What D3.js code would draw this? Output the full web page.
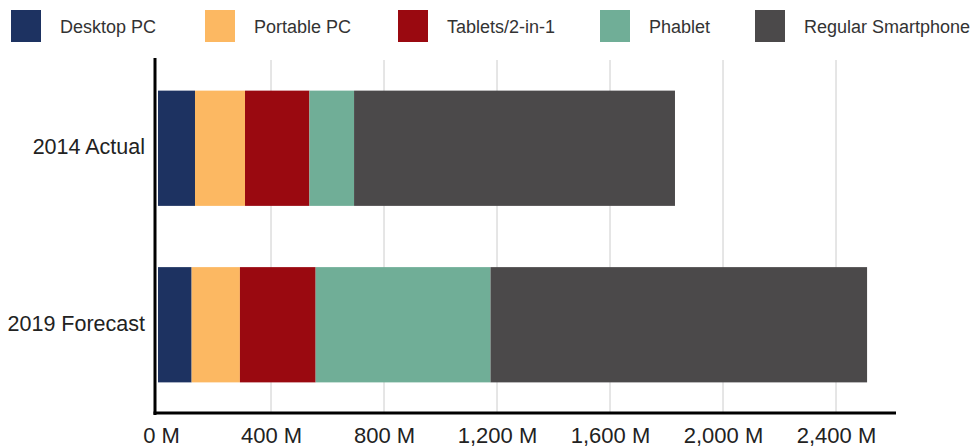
<!DOCTYPE html>
<html>
<head>
<meta charset="utf-8">
<script src="https://cdn.jsdelivr.net/npm/d3@7"></script>
<style>
  html, body { margin: 0; padding: 0; background: #fff; }
  svg { display: block; }
  svg text { font-family: "Liberation Sans", Arial, sans-serif; }
</style>
</head>
<body>
<svg id="chart" width="971" height="448"></svg>
<script>
// Device shipments by type, in millions of units
const categories = ["2014 Actual", "2019 Forecast"];
const seriesNames = ["Desktop PC", "Portable PC", "Tablets/2-in-1", "Phablet", "Regular Smartphone"];
const desktopPC = [131, 119];
const portablePC = [177, 171];
const tablets = [228, 268];
const phablet = [158, 619];
const regularSmartphone = [1136, 1333];
const tickValues = [0, 400, 800, 1200, 1600, 2000, 2400];
const colors = ["#1d3261", "#fcb862", "#9a0910", "#70ae97", "#4b494a"];

const seriesValues = [desktopPC, portablePC, tablets, phablet, regularSmartphone];
const rows = categories.map((c, i) => {
  const r = { category: c };
  seriesNames.forEach((s, j) => { r[s] = seriesValues[j][i]; });
  return r;
});

const FONT = "'Liberation Sans', Arial, sans-serif";
const svg = d3.select("#chart");
const plot = { left: 158, right: 892.5, top: 60, bottom: 413 };

const x = d3.scaleLinear().domain([0, 2600]).range([plot.left, plot.right]);
const y = d3.scaleBand().domain(categories).range([plot.top, plot.bottom])
  .paddingInner(0.347).paddingOuter(0.1735);
const color = d3.scaleOrdinal().domain(seriesNames).range(colors);

// Vertical gridlines
svg.append("g")
  .selectAll("line")
  .data(tickValues.filter(d => d > 0))
  .join("line")
  .attr("x1", d => x(d)).attr("x2", d => x(d))
  .attr("y1", plot.top).attr("y2", plot.bottom)
  .attr("stroke", "#cccccc").attr("stroke-width", 1);

// Stacked bars
const stacked = d3.stack().keys(seriesNames)(rows);
svg.append("g")
  .selectAll("g")
  .data(stacked)
  .join("g")
  .attr("fill", d => color(d.key))
  .selectAll("rect")
  .data(d => d)
  .join("rect")
  .attr("x", d => x(d[0]))
  .attr("width", d => x(d[1]) - x(d[0]))
  .attr("y", d => y(d.data.category))
  .attr("height", y.bandwidth());

// Axis lines
svg.append("line")
  .attr("x1", 155).attr("x2", 155)
  .attr("y1", plot.top - 2).attr("y2", plot.bottom + 2)
  .attr("stroke", "#000").attr("stroke-width", 3);
svg.append("line")
  .attr("x1", 153.5).attr("x2", 896)
  .attr("y1", plot.bottom).attr("y2", plot.bottom)
  .attr("stroke", "#000").attr("stroke-width", 3);

// X tick labels
const fmt = d3.format(",");
const xAxis = d3.axisBottom(x).tickValues(tickValues)
  .tickFormat(d => fmt(d) + " M").tickSize(0).tickPadding(0);
const gx = svg.append("g").attr("transform", `translate(0,${plot.bottom + 14})`).call(xAxis);
gx.select(".domain").remove();
gx.attr("font-family", null).attr("font-size", null);
gx.selectAll("text")
  .attr("dy", "0.71em")
  .style("font-family", FONT)
  .style("font-size", "22px")
  .attr("fill", "#222");
gx.selectAll(".tick").filter(d => d === 0).select("text").attr("dx", 3);

// Y category labels
const yAxis = d3.axisLeft(y).tickSize(0).tickPadding(0);
const gy = svg.append("g").attr("transform", "translate(145,0)").call(yAxis);
gy.select(".domain").remove();
gy.attr("font-family", null).attr("font-size", null);
gy.selectAll("text")
  .attr("dy", "0.28em")
  .style("font-family", FONT)
  .style("font-size", "21.5px")
  .attr("fill", "#222");

// Legend
const legendX = [11, 205, 398, 600, 755];
const legend = svg.append("g")
  .selectAll("g")
  .data(seriesNames)
  .join("g")
  .attr("transform", (d, i) => `translate(${legendX[i]},10)`);
legend.append("rect")
  .attr("width", 30).attr("height", 32)
  .attr("fill", d => color(d));
legend.append("text")
  .attr("x", 49).attr("y", 17).attr("dy", "0.35em")
  .style("font-family", FONT)
  .style("font-size", "18px")
  .attr("fill", "#333")
  .text(d => d);
</script>
</body>
</html>
